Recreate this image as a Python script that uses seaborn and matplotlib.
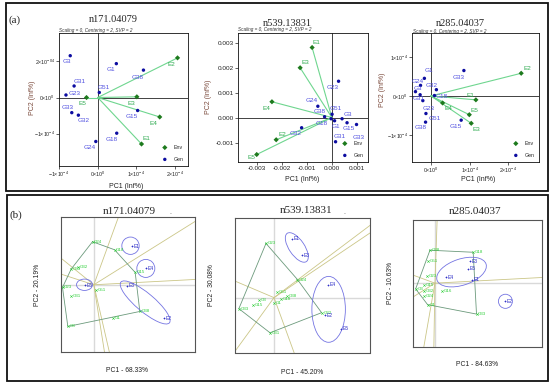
import numpy as np
import pandas as pd
import matplotlib
matplotlib.use("Agg")
import matplotlib.pyplot as plt
from matplotlib.patches import Ellipse, Rectangle
import seaborn as sns

# ---------------- (a) Inf% biplots ----------------
a1_gen = ["G3", "G1", "G38", "G31", "G51", "G23", "G33", "G32", "G15", "G18", "G24"]
a1_gen_pc1 = np.array([-0.71, 0.48, 1.18, -0.61, 0.04, -0.82, -0.67, -0.50, 1.03, 0.49, -0.05]) * 1e-4
a1_gen_pc2 = np.array([1.16, 0.94, 0.76, 0.32, 0.14, 0.07, -0.42, -0.49, -0.36, -0.99, -1.22]) * 1e-4
a1_env = ["E2", "E5", "E3", "E4", "E1"]
a1_env_pc1 = np.array([2.06, -0.29, 1.01, 1.60, 1.13]) * 1e-4
a1_env_pc2 = np.array([1.10, 0.00, 0.02, -0.54, -1.29]) * 1e-4

a2_gen = ["G23", "G24", "G38", "G51", "G3", "G18", "G1", "G15", "G33", "G32", "G31"]
a2_gen_pc1 = np.array([0.27, -0.56, -0.29, 0.01, 0.41, -0.03, 0.11, 0.61, 0.99, -1.21, 0.15]) * 1e-3
a2_gen_pc2 = np.array([1.45, 0.45, 0.03, 0.13, -0.05, -0.05, -0.13, -0.21, -0.28, -0.41, -0.97]) * 1e-3
a2_env = ["E1", "E3", "E4", "E2", "E5"]
a2_env_pc1 = np.array([-0.79, -1.27, -2.40, -2.23, -3.01]) * 1e-3
a2_env_pc2 = np.array([2.80, 1.99, 0.63, -0.89, -1.48]) * 1e-3

a3_gen = ["G33", "G1", "G24", "G32", "G3", "G31", "G18", "G23", "G51", "G38", "G15"]
a3_gen_pc1 = np.array([0.85, -0.17, -0.27, 0.14, -0.40, -0.28, 0.09, -0.21, -0.13, -0.14, 0.78]) * 1e-4
a3_gen_pc2 = np.array([0.65, 0.45, 0.27, 0.16, 0.11, 0.03, 0.01, -0.12, -0.45, -0.67, -0.62]) * 1e-4
a3_env = ["E2", "E1", "E4", "E5", "E3"]
a3_env_pc1 = np.array([2.33, 1.16, 0.30, 0.99, 1.04]) * 1e-4
a3_env_pc2 = np.array([0.58, -0.10, -0.18, -0.48, -0.70]) * 1e-4

# ---------------- (b) GGE biplots ----------------
b1_gen = ["G24", "G18", "G15", "G38", "G1", "G3", "G23", "G32", "G33", "G31", "G51"]
b1_gen_pc1 = [-0.04, 0.62, 1.24, 1.38, 0.58, -0.78, -0.94, -0.48, -0.68, -0.68, 0.07]
b1_gen_pc2 = [1.29, 1.05, 0.37, -0.80, -1.01, -1.25, -0.08, 0.52, 0.47, -0.33, -0.16]
b1_env = ["E5", "E1", "E4", "E3", "E2"]
b1_env_pc1 = [-0.28, 1.14, 1.57, 1.00, 2.10]
b1_env_pc2 = [-0.01, 1.16, 0.49, -0.03, -1.01]
b1_hull = ["G24", "G18", "G15", "G38", "G3", "G23", "G33"]
b1_rays = [70, 32, 141, 162, 3, -81, -77]

b2_gen = ["G23", "G24", "G51", "G38", "G18", "G1", "G3", "G15", "G33", "G31", "G32"]
b2_gen_pc1 = [-0.24, 0.70, 0.10, 0.38, 0.20, 0.00, -0.45, -0.62, -1.05, -0.12, 1.42]
b2_gen_pc2 = [1.62, 0.54, 0.16, 0.04, -0.03, -0.15, -0.07, -0.22, -0.33, -1.05, -0.45]
b2_env = ["E1", "E3", "E4", "E2", "E5"]
b2_env_pc1 = [0.53, 0.83, 1.60, 1.52, 2.00]
b2_env_pc2 = [1.76, 1.26, 0.38, -0.52, -0.93]
b2_hull = ["G23", "G24", "G32", "G31", "G33"]
b2_rays = [37, 34, -126, 157, -70]

b3_gen = ["G38", "G18", "G51", "G23", "G15", "G3", "G32", "G24", "G1", "G16", "G33"]
b3_gen_pc1 = [-0.15, 1.15, -0.20, -0.25, -0.32, -0.58, -0.32, -0.32, -0.22, 0.20, 1.25]
b3_gen_pc2 = [0.98, 0.92, 0.65, 0.20, -0.04, -0.17, -0.23, -0.39, -0.64, -0.24, -0.92]
b3_env = ["E3", "E5", "E4", "E1", "E2"]
b3_env_pc1 = [1.05, 1.00, 0.32, 1.10, 2.12]
b3_env_pc2 = [0.65, 0.43, 0.18, 0.10, -0.54]
b3_hull = ["G38", "G18", "G33", "G1", "G3"]
b3_rays = [88, 3, 160, -148, -91, -100]

# (center x, center y, width, height, angle)
b1_ellipses = [(1.10, 1.17, 0.52, 0.52, 0), (1.56, 0.49, 0.54, 0.54, 0),
               (-0.28, 0.0, 0.48, 0.34, 0), (1.54, -0.53, 1.90, 0.55, -40)]
b2_ellipses = [(0.68, 1.50, 1.02, 0.46, -56), (1.63, -0.35, 1.00, 1.97, 0)]
b3_ellipses = [(0.80, 0.33, 1.55, 0.78, 18), (2.12, -0.54, 0.42, 0.42, 0)]

# label offsets (px, right / down) for panel (a)
a1_offs = {"G3": (-3.7, 6), "G38": (-6, 7), "G31": (5.7, -4.7), "G51": (4.7, -5),
           "G23": (8.7, -1.7), "G33": (-4, -4.7), "G32": (5.7, 5.7), "G18": (-5.3, 6),
           "E5": (-4.3, 6.3), "E4": (-6, 6.3), "E1": (5, -5.7)}
a2_offs = {"E1": (4.7, -5), "E3": (5, -5.7), "G23": (-6, 6.3), "G24": (-6, -6),
           "G38": (-5, -5), "G51": (3.3, -5.7), "G3": (5.7, -4.3), "G18": (-9.3, 4.7),
           "G1": (1.3, 6), "G15": (2, 5.7), "G33": (1.7, 13.3), "G32": (-6.3, 5.7),
           "G31": (4, -5), "E2": (5.7, -5.3), "E5": (-5.7, 3)}
a3_offs = {"E2": (5.7, -5), "G33": (-5.3, 6.7), "G1": (4.3, -7.7), "G24": (-2.7, -4.3),
           "G32": (-5, -4), "G3": (2.7, -3.3), "G31": (-1.3, 4), "G18": (7, 1),
           "G23": (6, 7.7), "G51": (8.7, 4.7), "G38": (-5.3, 5.7), "G15": (-5.3, 6),
           "E1": (-5, -4.7), "E4": (6, 6), "E5": (5, -4.7), "E3": (5, 6)}

sns.set_theme(style="white")
plt.rcParams["font.family"] = ["Liberation Sans", "DejaVu Sans"]
plt.rcParams["mathtext.fontset"] = "custom"
plt.rcParams["mathtext.rm"] = "Liberation Sans"
plt.rcParams["mathtext.default"] = "regular"

W, H = 550, 387
fig = plt.figure(figsize=(5.5, 3.87), dpi=100)


def box(l, t, r, b):
    return [l / W, 1 - b / H, (r - l) / W, (b - t) / H]


def ftext(x, y, s, **kw):
    kw.setdefault("ha", "center")
    kw.setdefault("va", "center")
    fig.text(x / W, 1 - y / H, s, **kw)


def sci(v, e):
    return r"$%s{\times}10^{%s}$" % (v, e)


def inf_biplot(ax, gen, gx, gy, env, ex, ey, offs, xlim, ylim):
    gdf = pd.DataFrame({"name": gen, "PC1": gx, "PC2": gy})
    edf = pd.DataFrame({"name": env, "PC1": ex, "PC2": ey})
    ax.axhline(0, color="#222222", lw=0.6, zorder=1)
    ax.axvline(0, color="#222222", lw=0.6, zorder=1)
    for x, y in zip(ex, ey):
        ax.plot([0, x], [0, y], color="#6fd68f", lw=0.8, zorder=2)
    sns.scatterplot(data=edf, x="PC1", y="PC2", marker="D", s=7, color="#1d7a1d",
                    edgecolor="none", ax=ax, label="Env", zorder=4)
    sns.scatterplot(data=gdf, x="PC1", y="PC2", marker="o", s=6, color="#0c0ca0",
                    edgecolor="none", ax=ax, label="Gen", zorder=4)
    for df, col in ((gdf, "#4f4fe0"), (edf, "#2eaa50")):
        for n, x, y in zip(df["name"], df["PC1"], df["PC2"]):
            dx, dy = offs.get(n, (-5.7, 6.3))
            ax.annotate(n, (x, y), xytext=(dx * 0.72, -dy * 0.72), textcoords="offset points",
                        ha="center", va="center", fontsize=4.6, color=col, zorder=5)
    ax.set_xlim(*xlim)
    ax.set_ylim(*ylim)
    ax.set_xlabel("")
    ax.set_ylabel("")
    for sp in ax.spines.values():
        sp.set_color("#111111")
        sp.set_linewidth(0.6)
    ax.tick_params(bottom=True, left=True, direction="out", length=2, width=0.5,
                   labelsize=3.8, pad=1, colors="#222222")
    ax.legend(loc="lower right", bbox_to_anchor=(1.0, 0.0), borderaxespad=0.4, fontsize=3.8,
              handlelength=0.6, handletextpad=1.4, labelspacing=1.3, frameon=False,
              markerscale=1.0)


def gge_biplot(ax, gen, gx, gy, env, ex, ey, hull, rays, ells, xlim, ylim):
    ax.axhline(0, color="#d9d9d9", lw=1.0, zorder=0)
    ax.axvline(0, color="#d9d9d9", lw=1.0, zorder=0)
    for a in rays:
        t = np.deg2rad(a)
        ax.plot([0, 20 * np.cos(t)], [0, 20 * np.sin(t)], color="#cbc687", lw=0.6, zorder=1)
    idx = [gen.index(h) for h in hull] + [gen.index(hull[0])]
    ax.plot([gx[i] for i in idx], [gy[i] for i in idx], color="#6c9a7c", lw=0.6, zorder=2)
    for cx, cy, w, h, ang in ells:
        ax.add_patch(Ellipse((cx, cy), w, h, angle=ang, fill=False, ec="#7474e2", lw=0.6, zorder=2))
    gdf = pd.DataFrame({"name": gen, "PC1": gx, "PC2": gy})
    edf = pd.DataFrame({"name": env, "PC1": ex, "PC2": ey})
    sns.scatterplot(data=gdf, x="PC1", y="PC2", marker="x", s=3, color="#2fcf3a",
                    linewidth=0.4, ax=ax, zorder=3)
    sns.scatterplot(data=edf, x="PC1", y="PC2", marker="+", s=4, color="#3030c8",
                    linewidth=0.5, ax=ax, zorder=3)
    for n, x, y in zip(gen, gx, gy):
        ax.annotate(n, (x, y), xytext=(1.2, 0), textcoords="offset points", ha="left",
                    va="center", fontsize=3.2, color="#2fcf3a", zorder=4)
    for n, x, y in zip(env, ex, ey):
        ax.annotate(n, (x, y), xytext=(1.2, 0), textcoords="offset points", ha="left",
                    va="center", fontsize=3.6, color="#3030c8", zorder=4)
    ax.set_xlim(*xlim)
    ax.set_ylim(*ylim)
    ax.set_xticks([])
    ax.set_yticks([])
    ax.set_xlabel("")
    ax.set_ylabel("")
    for sp in ax.spines.values():
        sp.set_color("#555555")
        sp.set_linewidth(0.8)


# ---- panel (a) ----
ax1 = fig.add_axes(box(59, 33, 188, 166))
inf_biplot(ax1, a1_gen, a1_gen_pc1, a1_gen_pc2, a1_env, a1_env_pc1, a1_env_pc2, a1_offs,
           (-1.0e-4, 2.33e-4), (-1.90e-4, 1.79e-4))
ax1.set_xticks([-1e-4, 0, 1e-4, 2e-4], [sci(-1, -4), sci(0, 0), sci(1, -4), sci(2, -4)])
ax1.set_yticks([-1e-4, 0, 1e-4], [sci(-1, -4), sci(0, 0), sci(2, "-04")])

ax2 = fig.add_axes(box(238, 33, 368, 162))
inf_biplot(ax2, a2_gen, a2_gen_pc1, a2_gen_pc2, a2_env, a2_env_pc1, a2_env_pc2, a2_offs,
           (-3.76e-3, 1.45e-3), (-1.78e-3, 3.38e-3))
ax2.set_xticks([-0.003, -0.002, -0.001, 0, 0.001], ["-0.003", "-0.002", "-0.001", "0.000", "0.001"])
ax2.set_yticks([-0.001, 0, 0.001, 0.002, 0.003], ["-0.001", "0.000", "0.001", "0.002", "0.003"])
ax2.tick_params(labelsize=4.6)

ax3 = fig.add_axes(box(412, 33, 539, 162))
inf_biplot(ax3, a3_gen, a3_gen_pc1, a3_gen_pc2, a3_env, a3_env_pc1, a3_env_pc2, a3_offs,
           (-0.49e-4, 2.79e-4), (-1.69e-4, 1.61e-4))
ax3.set_xticks([0, 1e-4, 2e-4], [sci(0, 0), sci(1, -4), sci(2, -4)])
ax3.set_yticks([-1e-4, 0, 1e-4], [sci(-1, -4), sci(0, 0), sci(1, -4)])

serif = ["Liberation Serif", "DejaVu Serif"]
sub = "Scaling = 0, Centering = 2, SVP = 2"
ftext(15, 20, "(a)", family=serif, fontsize=8)
for x, y, t in ((113, 19.5, "n171.04079"), (287, 23.5, "n539.13831"), (460, 23, "n285.04037")):
    ftext(x, y, t, family=serif, fontsize=7.5)
for x, y in ((59, 30.5), (238, 30), (413, 31)):
    ftext(x, y, sub, ha="left", fontsize=3.3, style="italic", color="#333333")
for x, y in ((32, 98), (208, 97), (382, 90)):
    ftext(x, y, "PC2 (Inf%)", rotation=90, fontsize=5, color="#7b4a3c")
for x, y in ((126, 186), (302, 180), (478, 180)):
    ftext(x, y, "PC1 (Inf%)", fontsize=5, color="#222222")

# ---- panel (b) ----
bx1 = fig.add_axes(box(60.5, 216.7, 194.5, 351.5))
gge_biplot(bx1, b1_gen, b1_gen_pc1, b1_gen_pc2, b1_env, b1_env_pc1, b1_env_pc2, b1_hull,
           b1_rays, b1_ellipses, (-1.0, 3.02), (-2.0, 2.04))
bx2 = fig.add_axes(box(234.5, 218, 369.5, 352.5))
gge_biplot(bx2, b2_gen, b2_gen_pc1, b2_gen_pc2, b2_env, b2_env_pc1, b2_env_pc2, b2_hull,
           b2_rays, b2_ellipses, (-1.18, 2.85), (-1.64, 2.38))
bx3 = fig.add_axes(box(413, 220, 542, 347))
gge_biplot(bx3, b3_gen, b3_gen_pc1, b3_gen_pc2, b3_env, b3_env_pc1, b3_env_pc2, b3_hull,
           b3_rays, b3_ellipses, (-0.66, 3.22), (-1.90, 1.88))

ftext(16, 215, "(b)", family=serif, fontsize=8)
for x, y, t in ((129, 211.5, "n171.04079"), (306.5, 210.5, "n539.13831"), (475, 212, "n285.04037")):
    ftext(x, y, t, family=serif, fontsize=8)
ftext(170, 212, ".", fontsize=5, color="#555555")
ftext(344, 212, ".", fontsize=5, color="#555555")
for x, y, t in ((37.5, 285, "PC2 - 20.19%"), (211.5, 285, "PC2 - 30.08%"), (390.5, 283, "PC2 - 10.63%")):
    ftext(x, y, t, rotation=90, fontsize=4.9, color="#222222")
for x, y, t in ((127, 371, "PC1 - 68.33%"), (302, 372, "PC1 - 45.20%"), (477, 364.5, "PC1 - 84.63%")):
    ftext(x, y, t, fontsize=4.9, color="#222222")

# panel frames
for l, t, r, b in ((6, 3, 548, 191), (7, 195, 548, 381)):
    fig.add_artist(Rectangle((l / W, 1 - b / H), (r - l) / W, (b - t) / H, transform=fig.transFigure,
                             fill=False, ec="#111111", lw=1.3))

fig.savefig("out.png", dpi=100)
